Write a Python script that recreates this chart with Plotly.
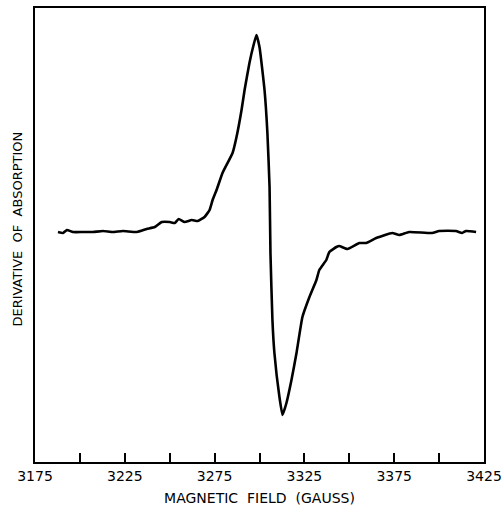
import plotly.graph_objects as go

# Magnetic field (gauss) and derivative of absorption (arbitrary units)
field = [3187.8, 3190.6, 3192.8, 3196.1, 3201.7, 3207.2, 3212.8, 3218.3, 3223.9,
         3231.7, 3237.2, 3241.7, 3245.6, 3250.0, 3252.8, 3255.0, 3258.3, 3262.2,
         3265.6, 3269.4, 3272.2, 3273.9, 3276.1, 3279.4, 3285.0, 3287.2, 3290.0,
         3291.7, 3294.4, 3296.7, 3298.3, 3300.0, 3302.8, 3304.4, 3305.6, 3306.1,
         3307.2, 3308.3, 3311.1, 3312.8, 3315.0, 3317.8, 3320.6, 3323.9, 3327.8,
         3331.7, 3333.3, 3337.2, 3338.9, 3342.8, 3344.4, 3348.9, 3355.6, 3359.4,
         3365.0, 3373.9, 3377.8, 3383.3, 3396.1, 3400.0, 3409.4, 3412.8, 3415.0,
         3420.6]
derivative = [0, -1, 2, 0, 0, 0, 1, 0, 1,
              0, 3, 5, 10, 10, 9, 13, 10, 12,
              11, 15, 22, 32, 42, 59, 79, 95, 122,
              142, 169, 187, 197, 185, 142, 99, 45, -21,
              -88, -121, -165, -183, -171, -148, -121, -85, -65,
              -48, -38, -28, -20, -15, -14, -17, -11, -11,
              -6, -1, -3, 0, -1, 1, 1, -1, 1,
              0]

tick_values = [3175, 3200, 3225, 3250, 3275, 3300, 3325, 3350, 3375, 3400, 3425]
tick_labels = ["3175", "", "3225", "", "3275", "", "3325", "", "3375", "", "3425"]

fig = go.Figure()
fig.add_trace(go.Scatter(x=field, y=derivative, mode="lines",
                         line=dict(color="black", width=2.6, shape="spline", smoothing=0.4),
                         showlegend=False, hoverinfo="skip"))

fig.update_layout(
    width=503, height=508,
    margin=dict(l=35, r=19, t=8, b=46),
    paper_bgcolor="white", plot_bgcolor="white",
    font=dict(family="DejaVu Sans", color="black", size=14),
    xaxis=dict(range=[3175, 3425], tickvals=tick_values, ticktext=tick_labels,
               ticks="inside", ticklen=9, tickwidth=1.5, tickcolor="black",
               showline=True, linecolor="black", linewidth=1.8, mirror=True,
               showgrid=False, zeroline=False, automargin=False,
               tickfont=dict(size=14),
               title=dict(text="MAGNETIC  FIELD  (GAUSS)", font=dict(size=14), standoff=10)),
    yaxis=dict(range=[-230, 224], showticklabels=False, ticks="",
               showline=True, linecolor="black", linewidth=1.8, mirror=True,
               showgrid=False, zeroline=False, automargin=False),
    annotations=[dict(text="DERIVATIVE  OF  ABSORPTION", textangle=-90,
                      xref="paper", yref="paper", x=-0.038, y=0.514,
                      xanchor="center", yanchor="middle", showarrow=False,
                      font=dict(size=13))],
)

fig.write_html("out.html", config={"displayModeBar": False},
               post_script="document.body.style.margin='0';")
